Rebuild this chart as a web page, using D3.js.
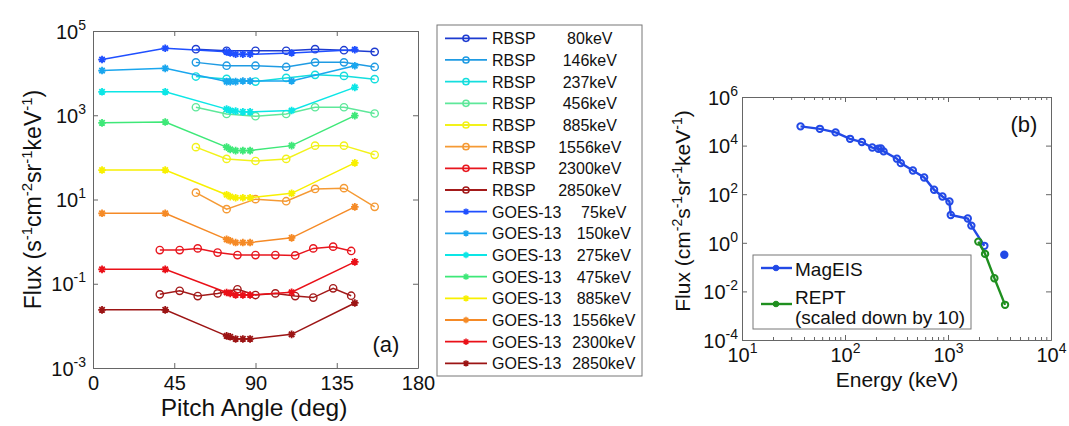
<!DOCTYPE html>
<html>
<head>
<meta charset="utf-8">
<script src="https://cdn.jsdelivr.net/npm/d3@7"></script>
<style>
  body { margin: 0; background: #fff; }
  svg { font-family: "Liberation Sans", Arial, sans-serif; }
  .axis path, .axis line { stroke: #666; }
  .axis text { fill: #111; }
</style>
</head>
<body>
<script>
// ---- panel (a) data: pitch angle distributions ----
const rbspAngles = [57, 74, 90, 107, 123, 139, 156];
const rbspHiAngles = [37, 48, 58, 69, 80, 90, 101, 112, 122, 133, 143];
const goesAngles = [5, 40, 74, 76, 79, 83, 87, 110, 145];

const rbspEnergies = ["80keV", "146keV", "237keV", "456keV", "885keV", "1556keV", "2300keV", "2850keV"];
const goesEnergies = ["75keV", "150keV", "275keV", "475keV", "885keV", "1556keV", "2300keV", "2850keV"];

const rbspFlux = [
  [3.7e4, 3.4e4, 3.4e4, 3.4e4, 3.7e4, 3.5e4, 3.2e4],
  [1.8e4, 1.5e4, 1.5e4, 1.4e4, 1.8e4, 1.8e4, 1.4e4],
  [8.3e3, 7.3e3, 6.3e3, 7.7e3, 9.1e3, 8.6e3, 7.2e3],
  [1550, 1070, 950, 1070, 1550, 1550, 1100],
  [175, 92, 82, 92, 190, 190, 115],
  [14.5, 5.9, 10.2, 9.1, 17.8, 18.6, 6.7],
  [0.63, 0.63, 0.69, 0.55, 0.48, 0.48, 0.48, 0.47, 0.69, 0.76, 0.6],
  [0.056, 0.068, 0.051, 0.059, 0.074, 0.054, 0.059, 0.051, 0.047, 0.078, 0.052]
];
const goesFlux = [
  [2.1e4, 3.9e4, 3.2e4, 3.0e4, 2.8e4, 2.8e4, 2.8e4, 3.0e4, 3.6e4],
  [1.15e4, 1.3e4, 6.3e3, 6.3e3, 6.3e3, 6.5e3, 6.5e3, 6.5e3, 1.5e4],
  [3.6e3, 3.6e3, 1.4e3, 1.3e3, 1.25e3, 1.2e3, 1.2e3, 1.3e3, 4.6e3],
  [660, 690, 175, 155, 145, 145, 145, 190, 980],
  [50, 50, 13, 11.7, 11, 11, 11, 14, 74],
  [4.7, 4.7, 1.13, 1.05, 0.95, 0.95, 0.95, 1.23, 6.7],
  [0.22, 0.22, 0.062, 0.059, 0.054, 0.054, 0.054, 0.063, 0.33],
  [0.024, 0.024, 0.0058, 0.0055, 0.0049, 0.0049, 0.0049, 0.0063, 0.035]
];
const rbspColors = ["#1d3bd0", "#1f9be3", "#14dede", "#5ee89a", "#f2f21a", "#f59a34", "#e8161e", "#a31a1a"];
const goesColors = ["#1f4fff", "#1aa6ee", "#0ce6e6", "#3ee878", "#f8f000", "#f58a26", "#ea1018", "#9c1414"];

const pitchTicks = [0, 45, 90, 135, 180];
const fluxTicksA = [1e-3, 1e-1, 1e1, 1e3, 1e5];

// ---- panel (b) data: energy spectrum ----
const magEisEnergy = [37, 57, 81, 112, 146, 184, 211, 223, 237, 319, 348, 456, 587, 733, 883, 1033, 1064, 1556, 1686, 2255];
const magEisFlux = [6.2e4, 4.9e4, 3.5e4, 1.9e4, 1.4e4, 8.3e3, 7.4e3, 7.6e3, 5.8e3, 2.9e3, 1.9e3, 950, 490, 152, 80, 50, 14, 10, 5.1, 0.75];
const magEisLoneEnergy = [3520];
const magEisLoneFlux = [0.32];
const reptEnergy = [1970, 2290, 2820, 3580];
const reptFlux = [1.12, 0.35, 0.035, 0.0028];
const energyTicks = [1e1, 1e2, 1e3, 1e4];
const fluxTicksB = [1e-4, 1e-2, 1e0, 1e2, 1e4, 1e6];

const width = 1069, height = 426;
const svg = d3.select("body").append("svg").attr("width", width).attr("height", height);

function supLabel(sel, parts, supSize, shift) {
  let up = false;
  parts.forEach(([t, s]) => {
    const ts = sel.append("tspan").text(t);
    if (s) {
      ts.attr("font-size", supSize);
      if (!up) { ts.attr("dy", -shift); up = true; }
    } else if (up) { ts.attr("dy", shift); up = false; }
  });
}
function expParts(v) { return [["10", 0], [String(Math.round(Math.log10(v))), 1]]; }

function asterisk(r) {
  const d = r * 0.7071;
  return `M${-r},0L${r},0M0,${-r}L0,${r}M${-d},${-d}L${d},${d}M${-d},${d}L${d},${-d}`;
}

// ================= panel (a) =================
const ax = { left: 93, right: 418, top: 31, bottom: 368 };
const xA = d3.scaleLinear().domain([0, 180]).range([ax.left, ax.right]);
const yA = d3.scaleLog().domain([1e-3, 1e5]).range([ax.bottom, ax.top]);

const gA = svg.append("g");
gA.append("g").attr("class", "axis").attr("transform", `translate(0,${ax.bottom})`)
  .call(d3.axisBottom(xA).tickValues(pitchTicks).tickSizeInner(-5).tickSizeOuter(0).tickPadding(8).tickFormat(d3.format("d")))
  .call(g => g.selectAll("text").attr("font-size", 20));
gA.append("g").attr("class", "axis").attr("transform", `translate(0,${ax.top})`)
  .call(d3.axisTop(xA).tickValues(pitchTicks).tickSizeInner(-5).tickSizeOuter(0).tickFormat(""));
gA.append("g").attr("class", "axis").attr("transform", `translate(${ax.left},0)`)
  .call(d3.axisLeft(yA).tickValues(fluxTicksA).tickSizeInner(-5).tickSizeOuter(0).tickPadding(7).tickFormat(""))
  .call(g => g.selectAll("text").attr("font-size", 20).attr("dy", "0.36em")
    .each(function (d) { supLabel(d3.select(this), expParts(d), 14, 9); }));
gA.append("g").attr("class", "axis").attr("transform", `translate(${ax.right},0)`)
  .call(d3.axisRight(yA).tickValues(fluxTicksA).tickSizeInner(-5).tickSizeOuter(0).tickFormat(""));

const lineA = d3.line().x(d => xA(d[0])).y(d => yA(d[1]));

function drawSeries(angles, values, color, kind) {
  const pts = values.map((v, i) => [angles[i], v]);
  gA.append("path").datum(pts).attr("d", lineA).attr("fill", "none")
    .attr("stroke", color).attr("stroke-width", 1.5);
  const m = gA.append("g").selectAll("path").data(pts).enter().append("path")
    .attr("transform", d => `translate(${xA(d[0])},${yA(d[1])})`)
    .attr("fill", "none").attr("stroke", color).attr("stroke-width", 1.4);
  if (kind === "o") m.attr("d", d3.symbol().type(d3.symbolCircle).size(42));
  else m.attr("d", asterisk(3.8)).attr("stroke-width", 1.8);
}
rbspFlux.forEach((vals, i) => drawSeries(i < 6 ? rbspAngles : rbspHiAngles, vals, rbspColors[i], "o"));
goesFlux.forEach((vals, i) => drawSeries(goesAngles, vals, goesColors[i], "*"));

gA.append("text").attr("x", 386).attr("y", 352).attr("text-anchor", "middle")
  .attr("font-size", 22).attr("fill", "#111").text("(a)");

gA.append("text").attr("x", 254).attr("y", 416).attr("text-anchor", "middle")
  .attr("font-size", 24.5).attr("fill", "#111").text("Pitch Angle (deg)");

const ylabA = gA.append("text").attr("transform", `translate(41,${(ax.top + ax.bottom) / 2}) rotate(-90)`)
  .attr("text-anchor", "middle").attr("font-size", 23).attr("fill", "#111");
supLabel(ylabA, [["Flux (s", 0], ["-1", 1], ["cm", 0], ["-2", 1], ["sr", 0], ["-1", 1], ["keV", 0], ["-1", 1], [")", 0]], 15, 9);

// legend (a): MATLAB pads the labels, so the energy shifts left by half a digit per extra digit
const legA = svg.append("g").attr("transform", "translate(437,25)");
legA.append("rect").attr("width", 205).attr("height", 351).attr("fill", "#fff").attr("stroke", "#777");
const legItems = rbspEnergies.map((e, i) => ({ name: "RBSP", energy: e, color: rbspColors[i], kind: "o", base: 139 }))
  .concat(goesEnergies.map((e, i) => ({ name: "GOES-13", energy: e, color: goesColors[i], kind: "*", base: 153 })));
const li = legA.selectAll("g.item").data(legItems).enter().append("g").attr("class", "item")
  .attr("transform", (d, i) => `translate(0,${13.3 + i * 21.67})`);
li.append("line").attr("x1", 8).attr("x2", 50).attr("stroke", d => d.color).attr("stroke-width", 1.8);
li.append("path").attr("transform", "translate(29,0)")
  .attr("d", d => d.kind === "o" ? d3.symbol().type(d3.symbolCircle).size(30)() : asterisk(3.2))
  .attr("fill", "none").attr("stroke", d => d.color).attr("stroke-width", 1.5);
li.append("text").attr("x", 55).attr("y", 6).attr("font-size", 16).attr("fill", "#111").text(d => d.name);
li.append("text").attr("x", d => d.base - 4.45 * (d.energy.length - 3)).attr("y", 6)
  .attr("font-size", 16).attr("fill", "#111").text(d => d.energy);

// ================= panel (b) =================
const bx = { left: 742, right: 1051, top: 97, bottom: 340 };
const xB = d3.scaleLog().domain([1e1, 1e4]).range([bx.left, bx.right]);
const yB = d3.scaleLog().domain([1e-4, 1e6]).range([bx.bottom, bx.top]);
const minorE = [];
energyTicks.slice(0, -1).forEach(t => { for (let k = 2; k <= 9; k++) minorE.push(t * k); });

const gB = svg.append("g");
gB.append("g").attr("class", "axis").attr("transform", `translate(0,${bx.bottom})`)
  .call(d3.axisBottom(xB).tickValues(minorE).tickSizeInner(-3).tickSizeOuter(0).tickFormat(""));
gB.append("g").attr("class", "axis").attr("transform", `translate(0,${bx.top})`)
  .call(d3.axisTop(xB).tickValues(minorE).tickSizeInner(-3).tickSizeOuter(0).tickFormat(""));
gB.append("g").attr("class", "axis").attr("transform", `translate(0,${bx.bottom})`)
  .call(d3.axisBottom(xB).tickValues(energyTicks).tickSizeInner(-5).tickSizeOuter(0).tickPadding(8).tickFormat(""))
  .call(g => g.selectAll("text").attr("font-size", 20)
    .each(function (d) { supLabel(d3.select(this), expParts(d), 14, 9); }));
gB.append("g").attr("class", "axis").attr("transform", `translate(0,${bx.top})`)
  .call(d3.axisTop(xB).tickValues(energyTicks).tickSizeInner(-5).tickSizeOuter(0).tickFormat(""));
gB.append("g").attr("class", "axis").attr("transform", `translate(${bx.left},0)`)
  .call(d3.axisLeft(yB).tickValues(fluxTicksB).tickSizeInner(-5).tickSizeOuter(0).tickPadding(4).tickFormat(""))
  .call(g => g.selectAll("text").attr("font-size", 20).attr("dy", "0.36em")
    .each(function (d) { supLabel(d3.select(this), expParts(d), 14, 9); }));
gB.append("g").attr("class", "axis").attr("transform", `translate(${bx.right},0)`)
  .call(d3.axisRight(yB).tickValues(fluxTicksB).tickSizeInner(-5).tickSizeOuter(0).tickFormat(""));

const lineB = d3.line().x(d => xB(d[0])).y(d => yB(d[1]));
function drawSpectrum(es, fs, color, connect) {
  const pts = es.map((e, i) => [e, fs[i]]);
  if (connect) gB.append("path").datum(pts).attr("d", lineB).attr("fill", "none")
    .attr("stroke", color).attr("stroke-width", 2.4);
  gB.append("g").selectAll("circle").data(pts).enter().append("circle")
    .attr("cx", d => xB(d[0])).attr("cy", d => yB(d[1])).attr("r", 3.2)
    .attr("fill", connect ? "none" : color).attr("stroke", color).attr("stroke-width", 2);
}
const blueB = "#2249e6", greenB = "#1f8f1f";
drawSpectrum(magEisEnergy, magEisFlux, blueB, true);
drawSpectrum(magEisLoneEnergy, magEisLoneFlux, blueB, false);
drawSpectrum(reptEnergy, reptFlux, greenB, true);

gB.append("text").attr("x", 1024).attr("y", 132).attr("text-anchor", "middle")
  .attr("font-size", 22).attr("fill", "#111").text("(b)");
gB.append("text").attr("x", 897).attr("y", 387).attr("text-anchor", "middle")
  .attr("font-size", 21).attr("fill", "#111").text("Energy (keV)");
const ylabB = gB.append("text").attr("transform", `translate(690,211) rotate(-90)`)
  .attr("text-anchor", "middle").attr("font-size", 21).attr("fill", "#111");
supLabel(ylabB, [["Flux (cm", 0], ["-2", 1], ["s", 0], ["-1", 1], ["sr", 0], ["-1", 1], ["keV", 0], ["-1", 1], [")", 0]], 14, 8);

// legend (b)
const legB = svg.append("g").attr("transform", "translate(753,255)");
legB.append("rect").attr("width", 218).attr("height", 74).attr("fill", "#fff").attr("stroke", "#777");
const legBItems = [
  { lines: ["MagEIS"], color: blueB, y: 13 },
  { lines: ["REPT", "(scaled down by 10)"], color: greenB, y: 49 }
];
const lb = legB.selectAll("g.item").data(legBItems).enter().append("g").attr("class", "item")
  .attr("transform", d => `translate(0,${d.y})`);
lb.append("line").attr("x1", 8).attr("x2", 39).attr("stroke", d => d.color).attr("stroke-width", 2.4);
lb.append("circle").attr("cx", 23).attr("r", 2.8).attr("fill", d => d.color).attr("stroke", d => d.color);
lb.append("text").attr("x", 42).attr("font-size", 19).attr("fill", "#111")
  .each(function (d) {
    const t = d3.select(this);
    d.lines.forEach((s, k) => t.append("tspan").attr("x", 42).attr("y", k === 0 ? (d.lines.length > 1 ? 0 : 8) : 20).text(s));
  });
</script>
</body>
</html>
